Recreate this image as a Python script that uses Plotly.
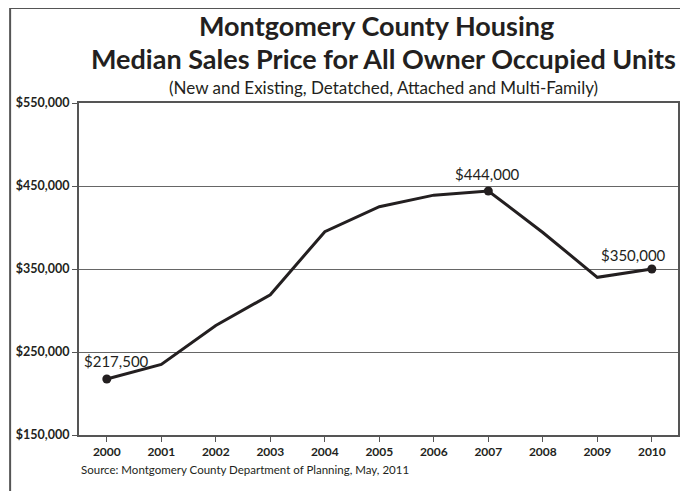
import plotly.graph_objects as go

years = [2000, 2001, 2002, 2003, 2004, 2005, 2006, 2007, 2008, 2009, 2010]
prices = [217500, 235000, 282000, 319000, 395000, 425000, 439000, 444000, 394000, 340000, 350000]
labeled_years = [2000, 2007, 2010]
labeled_prices = [217500, 444000, 350000]
labeled_text = ["$217,500", "$444,000", "$350,000"]
ytick_vals = [150000, 250000, 350000, 450000, 550000]
ytick_text = ["$150,000", "$250,000", "$350,000", "$450,000", "$550,000"]

FONT = "Lato"
INK = "#231f20"

fig = go.Figure()
fig.add_trace(go.Scatter(
    x=years, y=prices, mode="lines",
    line=dict(color=INK, width=3), hoverinfo="skip", showlegend=False))
fig.add_trace(go.Scatter(
    x=labeled_years, y=labeled_prices, mode="markers",
    marker=dict(color=INK, size=9), showlegend=False))

# data labels (pixel offsets from their points)
label_shifts = [(10, 18), (-1, 17), (-18, 14)]
for xv, yv, t, (sx, sy) in zip(labeled_years, labeled_prices, labeled_text, label_shifts):
    fig.add_annotation(x=xv, y=yv, text=t, showarrow=False,
                       xshift=sx, yshift=sy,
                       font=dict(family=FONT, size=15, color=INK))

fig.update_xaxes(
    range=[1999.49, 2010.48], tickmode="array", tickvals=years,
    ticks="outside", ticklen=5, tickwidth=1, tickcolor="#555",
    showline=True, linecolor="#555", linewidth=2, mirror=True,
    showgrid=False, zeroline=False,
    tickfont=dict(family=FONT, size=12, color=INK, weight="bold"))
fig.update_yaxes(
    range=[150000, 550000], tickmode="array", tickvals=ytick_vals, ticktext=ytick_text,
    ticks="outside", ticklen=5, tickwidth=1, tickcolor="#555",
    showline=True, linecolor="#555", linewidth=2, mirror=True,
    showgrid=True, gridcolor="#666", gridwidth=1.3, zeroline=False,
    tickfont=dict(family=FONT, size=12.5, color=INK, weight="bold"))

# titles
fig.add_annotation(xref="paper", yref="paper", x=0.497, y=1.232, yanchor="middle",
                   text="<b>Montgomery County Housing</b>", showarrow=False,
                   font=dict(family=FONT, size=27, color=INK))
fig.add_annotation(xref="paper", yref="paper", x=0.508, y=1.133, yanchor="middle",
                   text="<b>Median Sales Price for All Owner Occupied Units</b>", showarrow=False,
                   font=dict(family=FONT, size=27, color=INK))
fig.add_annotation(xref="paper", yref="paper", x=0.508, y=1.048, yanchor="middle",
                   text="(New and Existing, Detatched, Attached and Multi-Family)", showarrow=False,
                   font=dict(family=FONT, size=17, color=INK))
fig.add_annotation(xref="paper", yref="paper", x=0.0, y=-0.105, xanchor="left", yanchor="middle",
                   text="Source: Montgomery County Department of Planning, May, 2011", showarrow=False,
                   font=dict(family=FONT, size=11.5, color=INK))

# outer frame (left and top edges)
fig.add_shape(type="line", xref="paper", yref="paper", x0=-0.115, x1=-0.115, y0=1.286, y1=-0.2,
              line=dict(color="#555", width=2))
fig.add_shape(type="line", xref="paper", yref="paper", x0=-0.115, x1=1.02, y0=1.286, y1=1.286,
              line=dict(color="#555", width=2))

fig.update_layout(
    width=680, height=483,
    margin=dict(l=70, r=8, t=95, b=56),
    plot_bgcolor="white", paper_bgcolor="white")

fig.write_html("out.html")
